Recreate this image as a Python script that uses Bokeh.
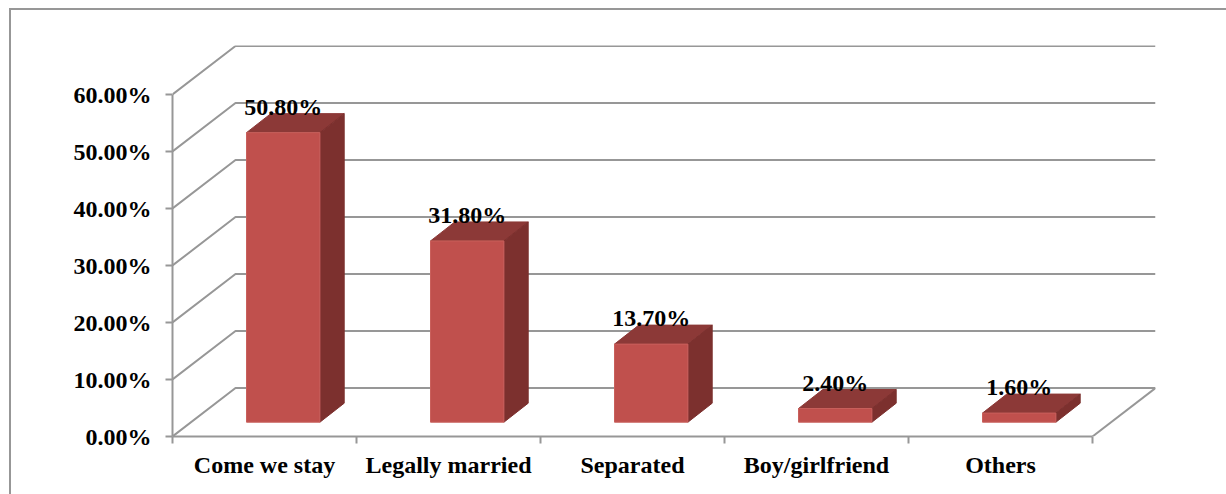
from bokeh.plotting import figure
from bokeh.models import Range1d, LinearAxis, FixedTicker
from bokeh.core.properties import value
from bokeh.embed import file_html
from bokeh.resources import INLINE

categories = ["Come we stay", "Legally married", "Separated", "Boy/girlfriend", "Others"]
percent = [50.8, 31.8, 13.7, 2.4, 1.6]
percent_labels = ["50.80%", "31.80%", "13.70%", "2.40%", "1.60%"]
y_ticks = [0, 10, 20, 30, 40, 50, 60]
y_tick_labels = ["0.00%", "10.00%", "20.00%", "30.00%", "40.00%", "50.00%", "60.00%"]

W, H = 1226, 494
L, R, T, B = 172, 1155, 45, 436      # frame edges in figure pixels
CAT_PX = 184.0
VAL_PX = 5.7
DX = 63 / CAT_PX                     # depth of the 3-D box
DY = 48.5 / VAL_PX
BAR_W = 73.4 / CAT_PX
BAR_OX, BAR_OY = 18.7 / CAT_PX, 14.3 / VAL_PX
BAR_DX, BAR_DY = 24.3 / CAT_PX, 19 / VAL_PX
GRAY = "#979797"
FONT = "Liberation Serif"
FS = "24px"

# chart-area border: only its left and top edges fall on the page
border_css = (f"linear-gradient({GRAY},{GRAY}) 9px 8px/2px 100% no-repeat, "
              f"linear-gradient({GRAY},{GRAY}) 9px 8px/100% 2px no-repeat")

p = figure(width=W, height=H, output_backend="svg", toolbar_location=None,
           x_range=Range1d(0, (R - L) / CAT_PX), y_range=Range1d(0, (B - T) / VAL_PX),
           min_border_left=L, min_border_right=W - R, min_border_top=T, min_border_bottom=H - B,
           x_axis_type=None, y_axis_type=None, outline_line_color=None, background_fill_color="white",
           border_fill_color=None, styles={"background": border_css})
p.xgrid.visible = False
p.ygrid.visible = False

n = len(categories)
# walls
for v in y_ticks:
    p.line([0, DX, n + DX], [v, v + DY, v + DY], line_color=GRAY, line_width=2)
p.line([n, n + DX], [0, DY], line_color=GRAY, line_width=2)

# bars
for i, v in enumerate(percent):
    x0 = i + 0.5 + BAR_OX - BAR_W / 2
    x1 = x0 + BAR_W
    y0 = BAR_OY
    y1 = y0 + v
    p.patch([x0, x1, x1 + BAR_DX, x0 + BAR_DX], [y1, y1, y1 + BAR_DY, y1 + BAR_DY],
            fill_color="#8c3937", line_color="#8c3937", line_width=1)
    p.patch([x1, x1 + BAR_DX, x1 + BAR_DX, x1], [y0, y0 + BAR_DY, y1 + BAR_DY, y1],
            fill_color="#7c302e", line_color="#7c302e", line_width=1)
    p.quad(left=x0, right=x1, bottom=y0, top=y1, fill_color="#c0504d", line_color="#c9605c", line_width=1)

p.text([i + 0.5 + BAR_OX for i in range(n)], [BAR_OY + v for v in percent], text=percent_labels,
       text_font=value(FONT), text_font_style="bold", text_font_size=value(FS), text_color="black",
       text_align="center", text_baseline="middle", y_offset=-26)

# axes
ya = LinearAxis(ticker=FixedTicker(ticks=y_ticks), bounds=(0, 60),
                major_label_overrides={t: s for t, s in zip(y_ticks, y_tick_labels)})
xa = LinearAxis(ticker=FixedTicker(ticks=[i + 0.5 for i in range(n)], minor_ticks=list(range(n + 1))),
                bounds=(0, n),
                major_label_overrides={i + 0.5: c for i, c in enumerate(categories)})
for a in (ya, xa):
    a.axis_line_color = GRAY
    a.axis_line_width = 2
    a.major_label_text_font = FONT
    a.major_label_text_font_style = "bold"
    a.major_label_text_font_size = FS
    a.major_label_text_color = "black"
    a.minor_tick_in = 0
ya.major_tick_line_color = GRAY
ya.major_tick_line_width = 2
ya.major_tick_in = 0
ya.major_tick_out = 7
ya.minor_tick_line_color = None
ya.major_label_standoff = 14
xa.major_tick_line_color = None
xa.major_tick_in = 0
xa.major_tick_out = 0
xa.minor_tick_line_color = GRAY
xa.minor_tick_line_width = 2
xa.minor_tick_out = 7
xa.major_label_standoff = 8
p.add_layout(ya, "left")
p.add_layout(xa, "below")

open("out.html", "w").write(file_html(p, INLINE))
